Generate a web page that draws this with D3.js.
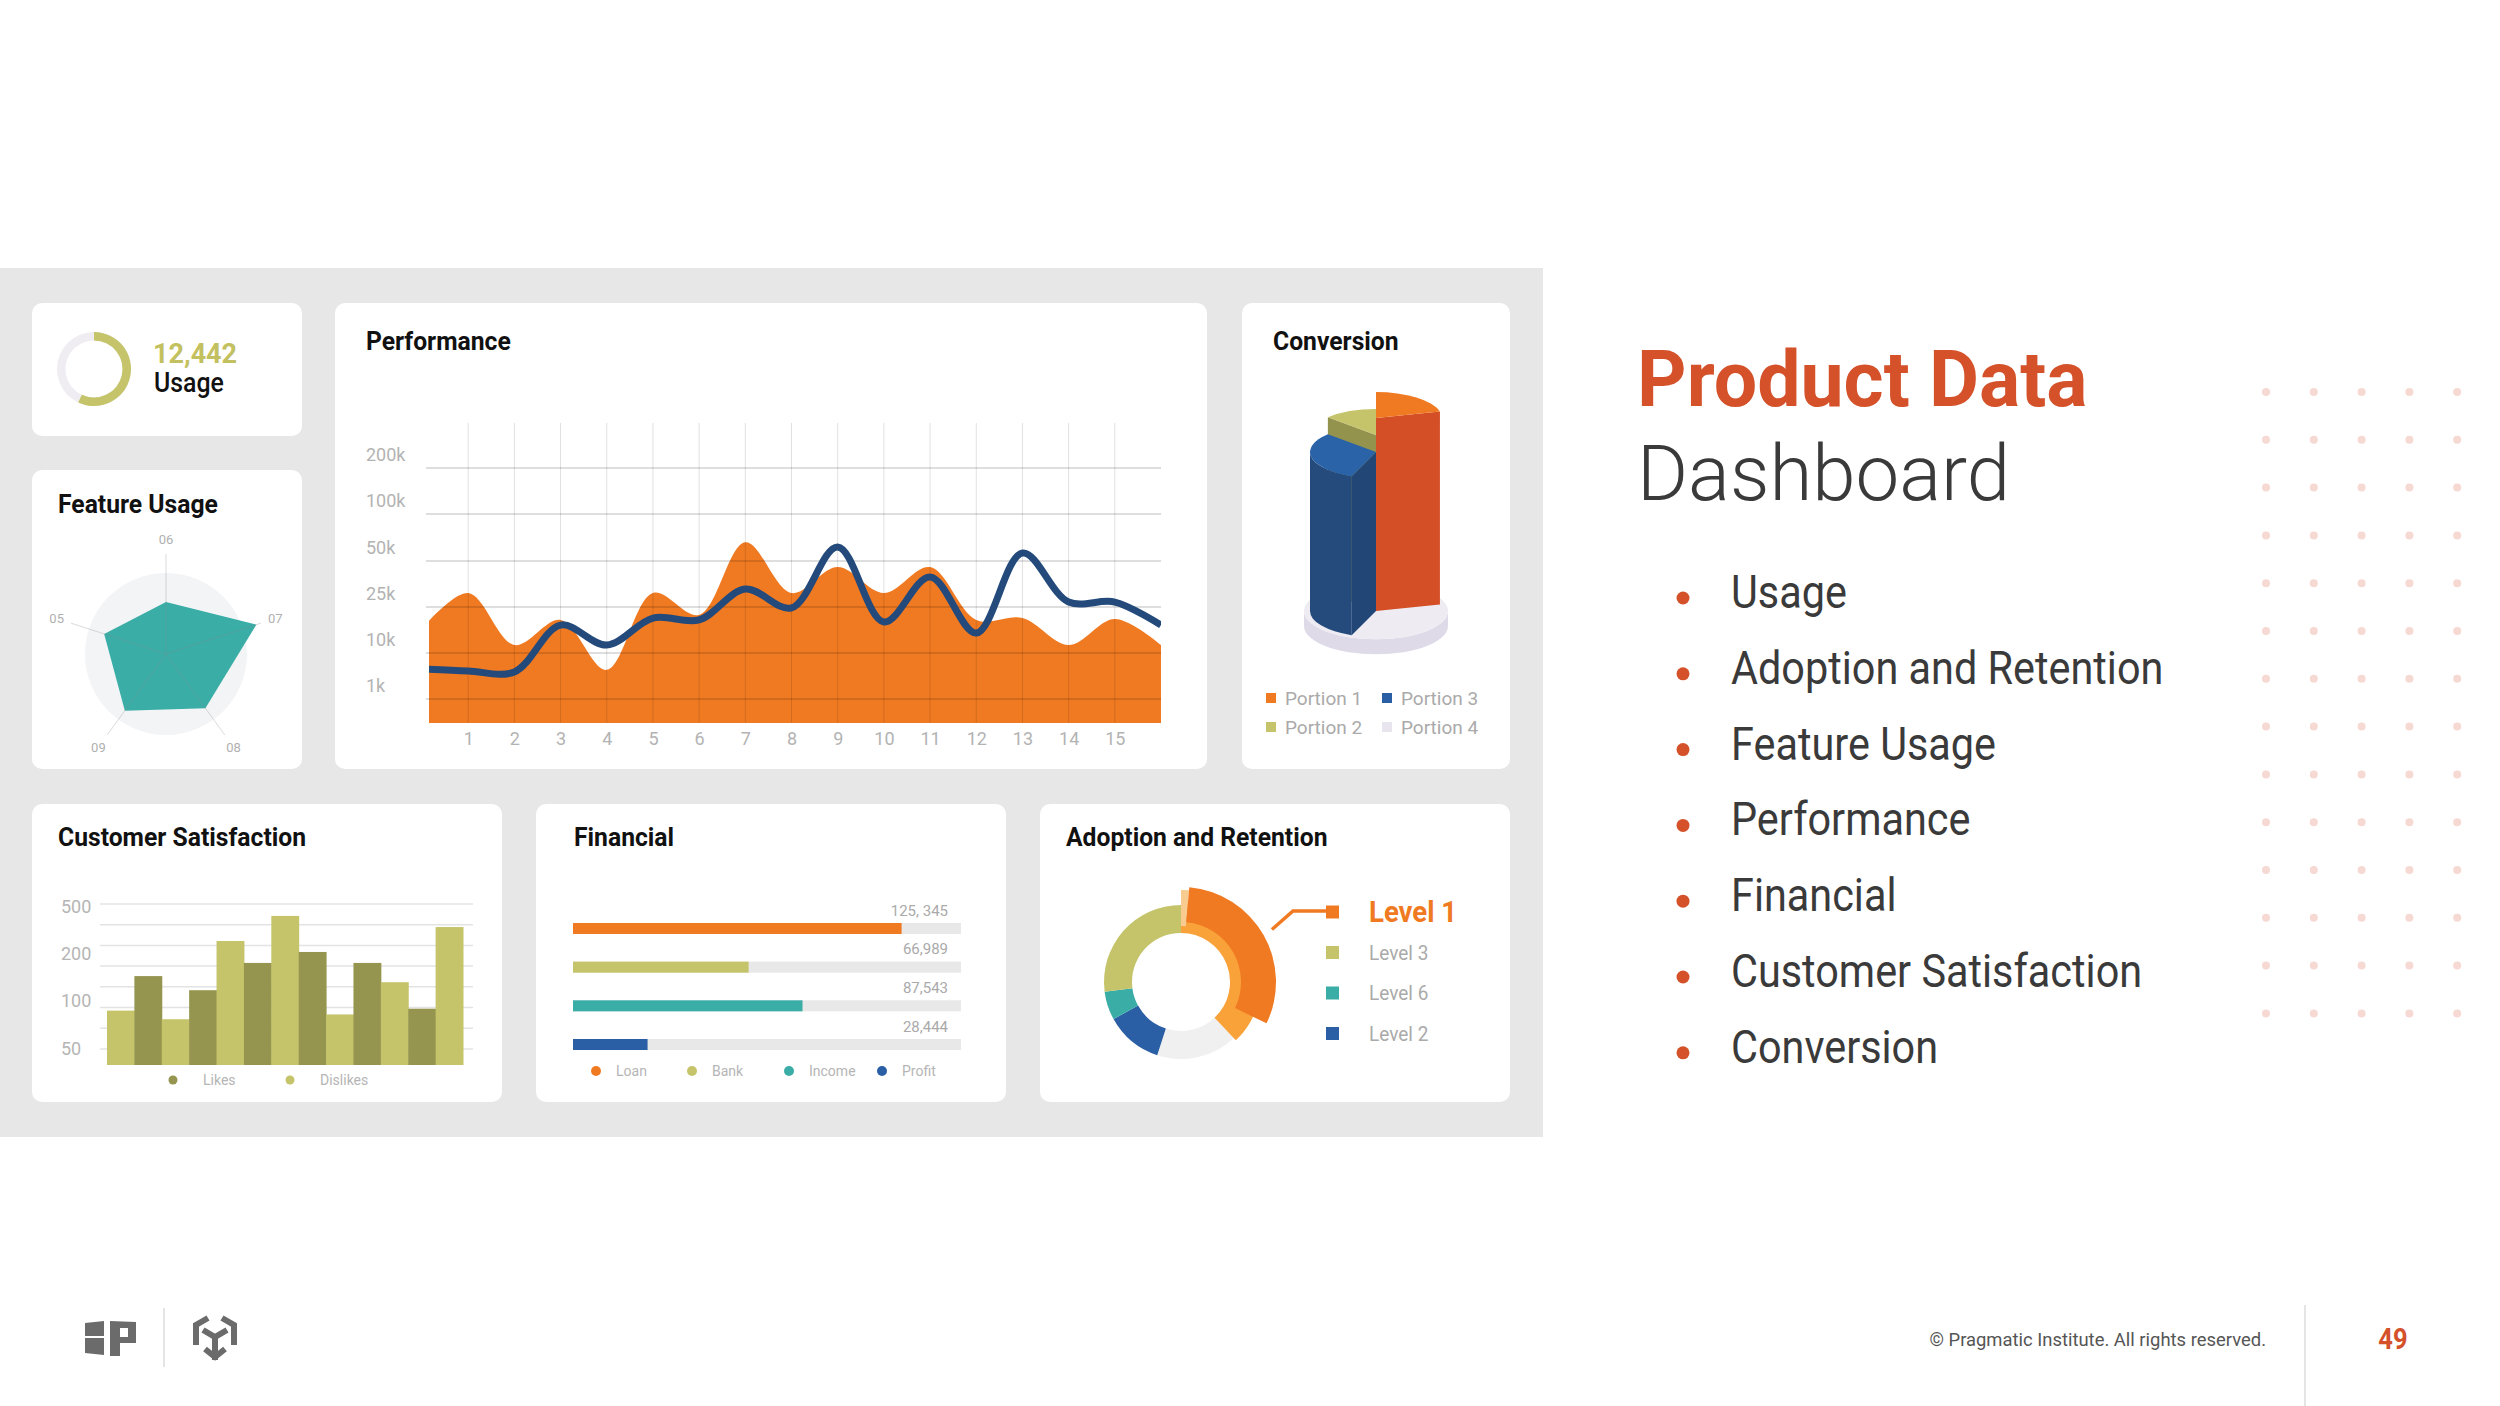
<!DOCTYPE html>
<html>
  <head>
    <style>
      body { margin: 0; background: #fff; }
      svg text { font-family: Roboto, "Noto Sans", sans-serif; }
    </style>
  </head>
  <body>
    <script src="https://d3js.org/d3.v7.min.js"></script>
    <div id="chart"></div>
    <script>
      // ---- data ----
      var usageLabel = "12,442";
      var usageShare = 0.57;

      var featureAxes = ["06", "07", "08", "09", "05"];
      var featureValues = [52, 95, 67, 70, 65];

      // performance: points at positions 0..16, values in thousands
      var perfTickLabels = ["1k", "10k", "25k", "50k", "100k", "200k"];
      var perfTickValues = [1, 10, 25, 50, 100, 200];
      var perfXTicks = [1, 2, 3, 4, 5, 6, 7, 8, 9, 10, 11, 12, 13, 14, 15];
      var perfArea = [18, 32.6, 12.6, 20.8, 6.7, 32.6, 22.4, 70, 32.6, 46.7, 32.6, 46.7, 20.8, 21.4, 12.6, 21.1, 12.6];
      var perfLine = [6.9, 6.5, 6.3, 19.1, 12.6, 21.4, 20.8, 34.8, 24.7, 65, 20.1, 41.3, 16.5, 58.5, 27.7, 27.7, 19.1];

      var portions = ["Portion 1", "Portion 2", "Portion 3", "Portion 4"];
      var portionShares = [21, 13, 31, 35];

      var satTickLabels = ["500", "200", "100", "50"];
      var satTickValues = [500, 200, 100, 50];
      var dislikes = [90, 81, 283, 443, 86, 140, 372];
      var likes = [153, 123, 181, 213, 181, 92];

      var finNames = ["Loan", "Bank", "Income", "Profit"];
      var finValues = [125345, 66989, 87543, 28444];
      var finLabels = ["125, 345", "66,989", "87,543", "28,444"];

      var levels = ["Level 1", "", "Level 2", "Level 6", "Level 3"];
      var levelShares = [38, 17, 12, 6, 27];
      var levelLegend = ["Level 1", "Level 3", "Level 6", "Level 2"];

      var topics = ["Usage", "Adoption and Retention", "Feature Usage", "Performance",
                    "Financial", "Customer Satisfaction", "Conversion"];

      // ---- colours ----
      var orange = "#F07A22", olive = "#C5C46A", oliveDark = "#95954F",
          teal = "#3AADA6", blue = "#2A5FA5", navy = "#234A7B", brand = "#D4512A";

      var svg = d3.select("#chart").append("svg")
          .attr("width", 2500).attr("height", 1406);
      svg.append("rect").attr("width", 2500).attr("height", 1406).attr("fill", "#fff");

      function label(x, y, str, o) {
        o = o || {};
        return svg.append("text")
          .attr("transform", "translate(" + x + "," + y + ") scale(" + (o.sx || 1) + ",1)")
          .attr("font-size", o.size || 16)
          .attr("font-weight", o.weight || 400)
          .attr("fill", o.color || "#111")
          .attr("text-anchor", o.anchor || "start")
          .text(str);
      }
      function title(x, y, str) {
        return label(x, y, str, {size: 26, weight: 700, sx: 0.95, color: "#111"});
      }

      // grey panel and white cards
      svg.append("rect").attr("x", 0).attr("y", 268).attr("width", 1543).attr("height", 869).attr("fill", "#E7E7E7");
      var cards = [[32, 303, 270, 133], [32, 470, 270, 299], [335, 303, 872, 466], [1242, 303, 268, 466],
                   [32, 804, 470, 298], [536, 804, 470, 298], [1040, 804, 470, 298]];
      svg.selectAll(".card").data(cards).enter().append("rect")
        .attr("class", "card")
        .attr("x", function(d) { return d[0]; }).attr("y", function(d) { return d[1]; })
        .attr("width", function(d) { return d[2]; }).attr("height", function(d) { return d[3]; })
        .attr("rx", 10).attr("fill", "#fff");

      // ---- Usage ----
      var ring = d3.arc().innerRadius(28.5).outerRadius(37);
      var gU = svg.append("g").attr("transform", "translate(94,369)");
      gU.append("path").attr("d", ring({startAngle: 0, endAngle: 2 * Math.PI})).attr("fill", "#EFEDF2");
      gU.append("path").attr("d", ring({startAngle: 0, endAngle: usageShare * 2 * Math.PI})).attr("fill", olive);
      label(153, 363, usageLabel, {size: 27, weight: 700, color: "#C3C060"});
      label(154, 392, "Usage", {size: 27, weight: 500, sx: 0.92});

      // ---- Feature Usage (radar) ----
      title(58, 513, "Feature Usage");
      var rr = d3.scaleLinear().domain([0, 100]).range([0, 100]);
      var gR = svg.append("g").attr("transform", "translate(166,654)");
      var ang = function(i) { return i * 2 * Math.PI / featureAxes.length; };
      gR.append("circle").attr("r", 81).attr("fill", "#F3F4F6");
      gR.append("path")
        .datum(featureValues)
        .attr("d", d3.lineRadial().angle(function(d, i) { return ang(i); })
                     .radius(function(d) { return rr(d); }).curve(d3.curveLinearClosed))
        .attr("fill", teal);
      gR.selectAll(".spoke").data(featureAxes).enter().append("line")
        .attr("x2", function(d, i) { return rr(100) * Math.sin(ang(i)); })
        .attr("y2", function(d, i) { return -rr(100) * Math.cos(ang(i)); })
        .attr("stroke", "#888").attr("stroke-opacity", 0.3).attr("stroke-width", 1);
      gR.selectAll(".al").data(featureAxes).enter().append("text")
        .attr("x", function(d, i) { return 115 * Math.sin(ang(i)); })
        .attr("y", function(d, i) { return -115 * Math.cos(ang(i)); })
        .attr("dy", "0.35em").attr("text-anchor", "middle")
        .attr("font-size", 13).attr("fill", "#b0b0b0").text(function(d) { return d; });

      // ---- Performance ----
      title(366, 350, "Performance");
      var px = d3.scaleLinear().domain([0, 16]).range([422, 1161]);
      var py = d3.scaleLinear().domain([0, 1, 10, 25, 50, 100, 200]).range([723, 699, 653, 607, 561, 514, 468]);
      svg.append("clipPath").attr("id", "perfClip")
        .append("rect").attr("x", 429).attr("y", 380).attr("width", 732).attr("height", 350);
      svg.append("path").datum(perfArea)
        .attr("clip-path", "url(#perfClip)")
        .attr("d", d3.area().x(function(d, i) { return px(i); }).y0(py(0)).y1(function(d) { return py(d); })
                     .curve(d3.curveCatmullRom))
        .attr("fill", orange);
      svg.selectAll(".hg").data(perfTickValues).enter().append("line")
        .attr("x1", 426).attr("x2", 1161)
        .attr("y1", function(d) { return py(d); }).attr("y2", function(d) { return py(d); })
        .attr("stroke", "#000").attr("stroke-opacity", 0.13).attr("stroke-width", 2);
      svg.selectAll(".vg").data(perfXTicks).enter().append("line")
        .attr("x1", function(d) { return px(d); }).attr("x2", function(d) { return px(d); })
        .attr("y1", 423).attr("y2", py(0))
        .attr("stroke", "#000").attr("stroke-opacity", 0.12).attr("stroke-width", 1);
      svg.append("path").datum(perfLine)
        .attr("clip-path", "url(#perfClip)")
        .attr("d", d3.line().x(function(d, i) { return px(i); }).y(function(d) { return py(d); })
                     .curve(d3.curveCatmullRom))
        .attr("fill", "none").attr("stroke", navy).attr("stroke-width", 7);
      svg.selectAll(".yl").data(perfTickValues).enter().append("text")
        .attr("x", 366).attr("y", function(d) { return py(d) - 7; })
        .attr("font-size", 18).attr("fill", "#b3b3b3")
        .text(function(d, i) { return perfTickLabels[i]; });
      var gx = svg.append("g").attr("transform", "translate(0,732)")
        .call(d3.axisBottom(px).tickValues(perfXTicks).tickSize(0).tickPadding(0));
      gx.select(".domain").remove();
      gx.selectAll("text").attr("font-size", 18).attr("fill", "#b3b3b3").attr("font-family", "Roboto");

      // ---- Conversion (3D pie) ----
      title(1273, 350, "Conversion");
      var cv = {cx: 1376, rx: 66, ry: 26, base: 611};
      var pcol = [{top: "#F07A22", side: "#D44F25", h: 193},
                  {top: "#C5C46A", side: "#9C9B52", h: 176},
                  {top: "#2A63A8", side: "#244B7C", h: 159},
                  {top: "#EEEBF3", side: "#DDD9E6", h: 0}];
      function pt(a, yc, k) { k = k || 1; return [cv.cx + cv.rx * k * Math.sin(a), yc - cv.ry * k * Math.cos(a)]; }
      function arcTo(a0, a1, yc, sweep, k) {
        k = k || 1;
        var p = pt(a1, yc, k);
        return "A" + (cv.rx * k) + "," + (cv.ry * k) + " 0 " + (Math.abs(a1 - a0) > Math.PI ? 1 : 0) + " " + sweep + " " + p[0] + "," + p[1];
      }
      // base plate
      var pk = 72 / 66, pb = cv.base + 15;
      svg.append("path").attr("fill", "#DEDAE7")
        .attr("d", "M" + pt(Math.PI / 2, cv.base, pk) + arcTo(Math.PI / 2, 1.5 * Math.PI, cv.base, 1, pk) +
                   "L" + pt(1.5 * Math.PI, pb, pk) + arcTo(1.5 * Math.PI, Math.PI / 2, pb, 0, pk) + "Z");
      svg.append("ellipse").attr("cx", cv.cx).attr("cy", cv.base).attr("rx", cv.rx * pk).attr("ry", cv.ry * pk).attr("fill", "#EEEBF3");
      var pieOrder = [0, 3, 2, 1];
      var slices = d3.pie().sort(null).value(function(i) { return portionShares[i]; })(pieOrder);
      var drawOrder = [3, 0, 1, 2];
      drawOrder.forEach(function(idx) {
        var s = slices.filter(function(d) { return d.data === idx; })[0];
        var c = pcol[idx], a0 = s.startAngle, a1 = s.endAngle;
        var yT = cv.base - c.h, yB = cv.base;
        if (c.h > 0) {
          var v0 = Math.max(a0, Math.PI / 2), v1 = Math.min(a1, 1.5 * Math.PI);
          if (v0 < v1) {
            svg.append("path").attr("fill", c.side)
              .attr("d", "M" + pt(v0, yT) + arcTo(v0, v1, yT, 1) + "L" + pt(v1, yB) + arcTo(v1, v0, yB, 0) + "Z");
          }
          [[a0, Math.sin(a0) < -1e-6], [a1, Math.sin(a1) > 1e-6]].forEach(function(f) {
            if (!f[1]) return;
            svg.append("path").attr("fill", d3.color(c.side).darker(f[0] === a0 ? 0.15 : 0))
              .attr("d", "M" + [cv.cx, yT] + "L" + pt(f[0], yT) + "L" + pt(f[0], yB) + "L" + [cv.cx, yB] + "Z");
          });
        }
        svg.append("path").attr("fill", c.top)
          .attr("d", "M" + [cv.cx, yT] + "L" + pt(a0, yT) + arcTo(a0, a1, yT, 1) + "Z");
      });
      var legCv = svg.selectAll(".lc").data(portions).enter().append("g")
        .attr("transform", function(d, i) { return "translate(" + (1271 + Math.floor(i / 2) * 116) + "," + (698 + (i % 2) * 29) + ")"; });
      legCv.append("rect").attr("x", -5).attr("y", -5).attr("width", 10).attr("height", 10)
        .attr("fill", function(d, i) { return [orange, olive, blue, "#E8E5EE"][i]; });
      legCv.append("text").attr("x", 14).attr("dy", "0.35em").attr("font-size", 19).attr("fill", "#aaa")
        .text(function(d) { return d; });

      // ---- Customer Satisfaction ----
      title(58, 846, "Customer Satisfaction");
      var sy = d3.scaleLinear().domain([0, 50, 100, 200, 500]).range([1065, 1049, 1001, 954, 907]);
      svg.selectAll(".sg").data(d3.range(8)).enter().append("line")
        .attr("x1", 100).attr("x2", 473)
        .attr("y1", function(d) { return 904 + d * 20.7; }).attr("y2", function(d) { return 904 + d * 20.7; })
        .attr("stroke", "#e3e3e3").attr("stroke-width", 1.5);
      var satBars = [];
      dislikes.forEach(function(v, i) {
        satBars.push({k: "d", v: v});
        if (i < likes.length) satBars.push({k: "l", v: likes[i]});
      });
      var sx = d3.scaleBand().domain(d3.range(satBars.length)).range([107, 463]).padding(0);
      svg.selectAll(".sb").data(satBars).enter().append("rect")
        .attr("x", function(d, i) { return sx(i); }).attr("width", sx.bandwidth() + 0.5)
        .attr("y", function(d) { return sy(d.v); }).attr("height", function(d) { return sy(0) - sy(d.v); })
        .attr("fill", function(d) { return d.k === "l" ? oliveDark : olive; });
      svg.selectAll(".sl").data(satTickValues).enter().append("text")
        .attr("x", 61).attr("y", function(d) { return sy(d); }).attr("dy", "0.35em")
        .attr("font-size", 18).attr("fill", "#b5b5b5").text(function(d, i) { return satTickLabels[i]; });
      [["Likes", oliveDark, 173], ["Dislikes", olive, 290]].forEach(function(l) {
        svg.append("circle").attr("cx", l[2]).attr("cy", 1080).attr("r", 4.5).attr("fill", l[1]);
        label(l[2] + 30, 1085, l[0], {size: 14, color: "#b5b5b5"});
      });

      // ---- Financial ----
      title(574, 846, "Financial");
      var fx = d3.scaleLinear().domain([0, 148000]).range([573, 961]);
      var fy = d3.scalePoint().domain(finNames).range([928.5, 1044.5]);
      var fcol = [orange, olive, teal, blue];
      svg.selectAll(".ft").data(finNames).enter().append("rect")
        .attr("x", fx(0)).attr("width", fx(148000) - fx(0))
        .attr("y", function(d) { return fy(d) - 5.5; }).attr("height", 11).attr("fill", "#E8E8E8");
      svg.selectAll(".fb").data(finValues).enter().append("rect")
        .attr("x", fx(0)).attr("width", function(d) { return fx(d) - fx(0); })
        .attr("y", function(d, i) { return fy(finNames[i]) - 5.5; }).attr("height", 11)
        .attr("fill", function(d, i) { return fcol[i]; });
      svg.selectAll(".fl").data(finLabels).enter().append("text")
        .attr("x", 948).attr("y", function(d, i) { return fy(finNames[i]) - 13; })
        .attr("text-anchor", "end").attr("font-size", 15).attr("fill", "#aaa").text(function(d) { return d; });
      finNames.forEach(function(n, i) {
        var lx = [596, 692, 789, 882][i];
        svg.append("circle").attr("cx", lx).attr("cy", 1071).attr("r", 5).attr("fill", fcol[i]);
        label(lx + 20, 1076, n, {size: 14, color: "#b5b5b5"});
      });

      // ---- Adoption and Retention ----
      title(1066, 846, "Adoption and Retention");
      var lcol = [orange, "#F0F0F0", blue, teal, olive];
      var gA = svg.append("g").attr("transform", "translate(1181,982)");
      var lv = d3.pie().sort(null).value(function(d) { return d; })(levelShares);
      var ringA = d3.arc().innerRadius(49).outerRadius(77);
      gA.selectAll(".la").data(lv.slice(1)).enter().append("path")
        .attr("d", ringA).attr("fill", function(d, i) { return lcol[i + 1]; });
      var L1 = lv[0], deg = Math.PI / 180;
      gA.append("path").attr("fill", "#F9A23A")
        .attr("d", d3.arc().innerRadius(49).outerRadius(80)({startAngle: L1.startAngle, endAngle: L1.endAngle}));
      gA.append("path").attr("fill", "#F8CB90")
        .attr("d", d3.arc().innerRadius(56).outerRadius(92)({startAngle: L1.startAngle, endAngle: L1.startAngle + 5 * deg}));
      gA.append("path").attr("fill", orange)
        .attr("d", d3.arc().innerRadius(60).outerRadius(95)({startAngle: L1.startAngle + 5 * deg, endAngle: L1.endAngle - 21 * deg}));
      var la = 60 * deg;
      gA.append("polyline")
        .attr("points", [[105 * Math.sin(la), -105 * Math.cos(la)], [112, -71], [146, -71]].join(" "))
        .attr("fill", "none").attr("stroke", orange).attr("stroke-width", 3.5);
      levelLegend.forEach(function(n, i) {
        var c = lcol[levels.indexOf(n)], cy = 912 + i * 40.5;
        svg.append("rect").attr("x", 1326).attr("y", cy - 6.5).attr("width", 13).attr("height", 13).attr("fill", c);
        if (i === 0) label(1369, cy + 10, n, {size: 29, weight: 700, color: orange, sx: 0.95});
        else label(1369, cy + 7, n, {size: 20, color: "#aaa", sx: 0.95});
      });

      // ---- right side text ----
      label(1637, 406, "Product Data", {size: 77, weight: 700, color: brand});
      label(1637, 500, "Dashboard", {size: 78, weight: 300, color: "#3a3a3a"});
      topics.forEach(function(t, i) {
        var cy = 598 + i * 75.8;
        svg.append("circle").attr("cx", 1683).attr("cy", cy).attr("r", 6.5).attr("fill", brand);
        label(1731, cy + 10, t, {size: 46, weight: 400, color: "#3a3a3a", sx: 0.9});
      });
      svg.selectAll(".dot").data(d3.cross(d3.range(5), d3.range(14))).enter().append("circle")
        .attr("cx", function(d) { return 2266 + d[0] * 47.8; })
        .attr("cy", function(d) { return 392 + d[1] * 47.8; })
        .attr("r", 4).attr("fill", "#F6D9D3");

      // ---- footer ----
      svg.append("line").attr("x1", 164).attr("x2", 164).attr("y1", 1308).attr("y2", 1367).attr("stroke", "#ddd").attr("stroke-width", 1.5);
      svg.append("line").attr("x1", 2305).attr("x2", 2305).attr("y1", 1305).attr("y2", 1406).attr("stroke", "#ddd").attr("stroke-width", 1.5);
      var logo = "#6b6b6b";
      svg.append("path").attr("fill", logo)
        .attr("d", "M85,1323L104,1321L104,1336L85,1336Z M85,1338L104,1338L104,1355L85,1353Z " +
                   "M110,1321L136,1322L136,1343L120,1343L120,1356L110,1356Z");
      svg.append("rect").attr("x", 120).attr("y", 1328).attr("width", 8).attr("height", 9).attr("fill", "#fff");
      svg.append("path").attr("fill", "none").attr("stroke", logo).attr("stroke-width", 6).attr("stroke-linejoin", "miter")
        .attr("d", "M208,1318L196,1325L196,1345 M222,1318L234,1325L234,1345 " +
                   "M203,1330L215,1337L227,1330 M215,1337L215,1360 M205,1349L215,1357L225,1349");
      label(2266, 1346, "\u00A9 Pragmatic Institute. All rights reserved.", {size: 19, color: "#555", anchor: "end", sx: 0.97});
      label(2393, 1349, "49", {size: 29, weight: 700, color: brand, anchor: "middle", sx: 0.88});
    </script>
  </body>
</html>
